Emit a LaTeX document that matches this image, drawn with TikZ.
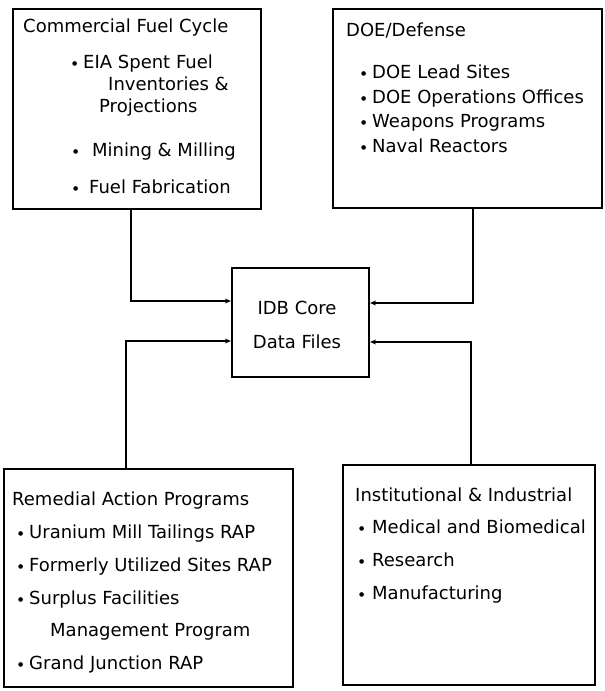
\documentclass[tikz,border=0pt]{standalone}
\usepackage{fontspec}
\setmainfont{DejaVu Sans}
\usetikzlibrary{arrows.meta}
\newcommand\itm[1][11pt]{\makebox[#1][l]{\raisebox{3pt}{\fontsize{6}{6}\selectfont ●}}}
\begin{document}
\begin{tikzpicture}[x=1pt,y=1pt,
  box/.style={draw=black,line width=2.2pt,rectangle,inner sep=0pt,fill=white},
  txt/.style={anchor=base west,inner sep=0pt,font=\fontsize{18}{18}\selectfont},
  ctxt/.style={anchor=base,inner sep=0pt,font=\fontsize{18}{18}\selectfont},
  conn/.style={line width=2pt,-{Stealth[length=6pt,width=5pt]}}]
\useasboundingbox (0,0) rectangle (605,-691);
\fill[white] (0,0) rectangle (605,-691);
% boxes
\node[box,minimum width=248pt,minimum height=200pt] (com) at (137,-109) {};
\node[box,minimum width=269pt,minimum height=199pt] (doe) at (467.5,-108.5) {};
\node[box,minimum width=137pt,minimum height=109pt] (core) at (300.5,-322.5) {};
\node[box,minimum width=289pt,minimum height=218pt] (rem) at (148.5,-578) {};
\node[box,minimum width=252pt,minimum height=220pt] (ins) at (469,-575) {};
% commercial
\node[txt] (c0) at (23,-32) {Commercial Fuel Cycle};
\node[txt] (c1) at (72,-68) {\itm EIA Spent Fuel};
\node[txt] (c2) at (108,-90) {Inventories \&};
\node[txt] (c3) at (99,-112) {Projections};
\node[txt] (c4) at (73,-156) {\itm[19pt]Mining \& Milling};
\node[txt] (c5) at (73,-193) {\itm[16pt]Fuel Fabrication};
% DOE
\node[txt] (d0) at (346,-36) {DOE/Defense};
\node[txt] (d1) at (361,-78) {\itm DOE Lead Sites};
\node[txt] (d2) at (361,-103) {\itm DOE Operations Offices};
\node[txt] (d3) at (361,-127) {\itm Weapons Programs};
\node[txt] (d4) at (361,-152) {\itm Naval Reactors};
% core
\node[ctxt] (k1) at (297,-314) {IDB Core};
\node[ctxt] (k2) at (297,-348) {Data Files};
% remedial
\node[txt] (r0) at (12,-505) {Remedial Action Programs};
\node[txt] (r1) at (18,-538) {\itm Uranium Mill Tailings RAP};
\node[txt] (r2) at (18,-571) {\itm Formerly Utilized Sites RAP};
\node[txt] (r3) at (18,-604) {\itm Surplus Facilities};
\node[txt] (r4) at (50,-636) {Management Program};
\node[txt] (r5) at (18,-669) {\itm Grand Junction RAP};
% institutional
\node[txt] (i0) at (355,-501) {Institutional \& Industrial};
\node[txt] (i1) at (359,-533) {\itm[13pt]Medical and Biomedical};
\node[txt] (i2) at (359,-566) {\itm[13pt]Research};
\node[txt] (i3) at (359,-599) {\itm[13pt]Manufacturing};
% connectors
\draw[conn] ([xshift=-6pt]com.south) |- ([yshift=21.5pt]core.west);
\draw[conn] ([xshift=5.5pt]doe.south) |- ([yshift=19.5pt]core.east);
\draw[conn] ([xshift=-22.5pt]rem.north) |- ([yshift=-18.5pt]core.west);
\draw[conn] ([xshift=2pt]ins.north) |- ([yshift=-19.5pt]core.east);
\end{tikzpicture}
\end{document}
